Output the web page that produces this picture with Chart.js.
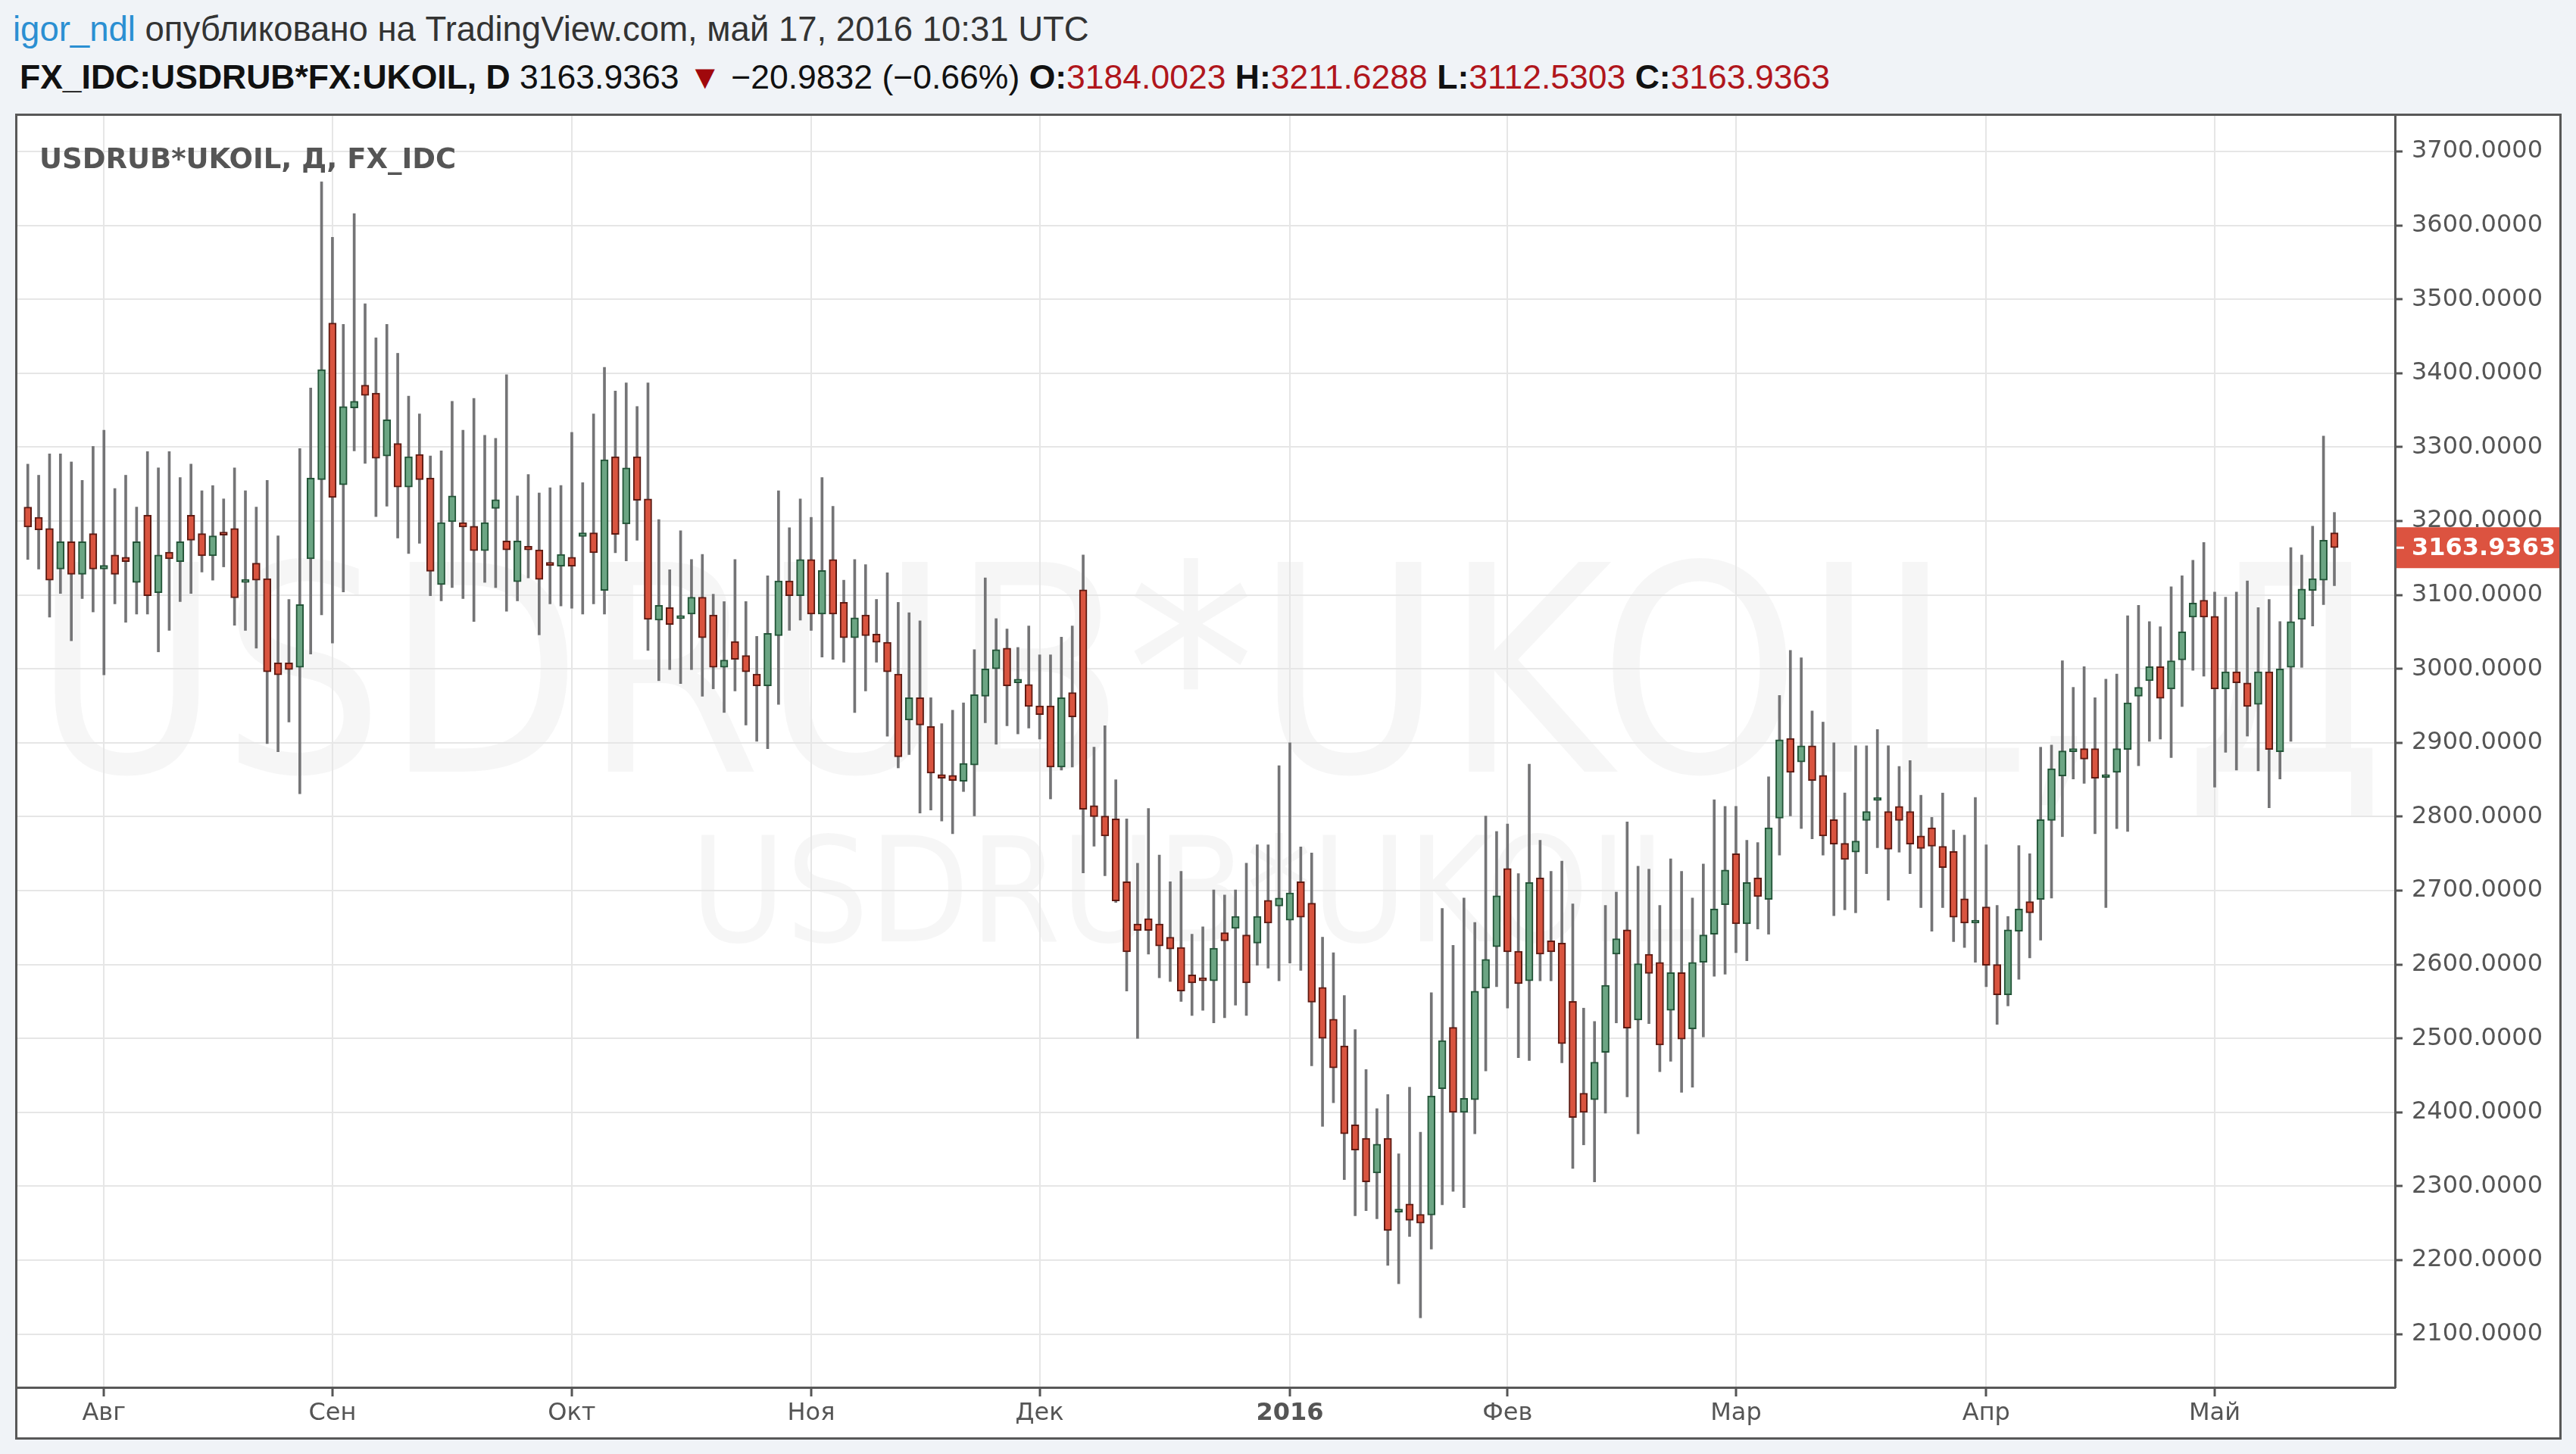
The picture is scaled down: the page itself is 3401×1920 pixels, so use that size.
<!DOCTYPE html>
<html><head><meta charset="utf-8">
<script src="https://cdn.jsdelivr.net/npm/chart.js@4.4.1/dist/chart.umd.min.js"></script>
<style>
html,body{margin:0;padding:0;background:#f0f3f7;width:3401px;height:1920px;overflow:hidden;}
#l1{position:absolute;left:17px;top:12px;font-family:'Liberation Sans',Arial,sans-serif;font-size:45.5px;line-height:54px;color:#333;white-space:nowrap;}
#l1 .user{color:#2b8fd2;}
#l2{position:absolute;left:26px;top:75px;font-family:'Liberation Sans',Arial,sans-serif;font-size:44.5px;line-height:54px;color:#111;white-space:nowrap;}
#l2 b{font-weight:bold;color:#111;}
#l2 .r{color:#b0161c;}
#l2 .tri{color:#a0080c;}
#frame{position:absolute;left:20px;top:150px;width:3356px;height:1745px;border:3px solid #585858;background:#fff;}
#chart{position:absolute;left:0;top:0;background:#fff;}
#legend{position:absolute;left:29px;top:35px;font-family:'DejaVu Sans',sans-serif;font-weight:bold;font-size:37px;line-height:44px;color:#555;white-space:nowrap;}
</style></head>
<body>
<div id="l1"><span class="user">igor_ndl</span> опубликовано на TradingView.com, май 17, 2016 10:31 UTC</div>
<div id="l2"><b>FX_IDC:USDRUB*FX:UKOIL, D</b> 3163.9363 <span class="tri">▼</span> −20.9832 (−0.66%) <b>O:</b><span class="r">3184.0023</span> <b>H:</b><span class="r">3211.6288</span> <b>L:</b><span class="r">3112.5303</span> <b>C:</b><span class="r">3163.9363</span></div>
<div id="frame">
<canvas id="chart" width="3356" height="1745"></canvas>
<div id="legend">USDRUB*UKOIL, Д, FX_IDC</div>
</div>
<script>
const opens=[3219,3205,3190,3135,3172,3128,3183,3135,3154,3151,
3117,3208,3103,3158,3145,3208,3183,3153,3183,3190,
3117,3143,3122,3008,3008,3002,3149,3256,3468,3249,
3353,3384,3373,3288,3305,3246,3290,3258,3114,3199,
3198,3193,3160,3217,3173,3118,3166,3161,3144,3139,
3151,3179,3184,3106,3287,3196,3287,3230,3066,3083,
3068,3074,3097,3073,3002,3037,3018,2993,2977,3045,
3119,3099,3148,3074,3148,3090,3042,3073,3047,3036,
2993,2931,2961,2922,2857,2856,2848,2870,2963,3000,
3028,2981,2979,2950,2950,2867,2968,3107,2815,2801,
2797,2712,2655,2662,2655,2637,2623,2586,2581,2578,
2643,2649,2640,2629,2687,2679,2660,2712,2683,2569,
2526,2490,2383,2365,2318,2365,2265,2276,2262,2261,
2432,2515,2400,2417,2568,2624,2730,2618,2578,2717,
2632,2629,2550,2426,2417,2481,2614,2647,2525,2614,
2603,2538,2589,2513,2603,2641,2681,2750,2655,2717,
2688,2798,2906,2874,2896,2856,2796,2764,2752,2795,
2822,2807,2814,2807,2774,2785,2760,2753,2689,2656,
2678,2600,2559,2645,2685,2688,2795,2855,2888,2892,
2892,2853,2860,2891,2963,2984,3003,2973,3012,3070,
3093,3071,2973,2996,2981,2952,2996,2888,3002,3067,
3106,3120,3184.0023];
const highs=[3277,3262,3291,3291,3280,3255,3301,3323,3244,3262,
3219,3294,3272,3294,3259,3277,3241,3248,3230,3272,
3241,3219,3255,3180,3094,3298,3380,3659,3584,3466,
3616,3494,3448,3466,3427,3369,3345,3288,3295,3362,
3323,3366,3316,3312,3398,3234,3263,3238,3245,3248,
3320,3252,3345,3408,3376,3387,3355,3387,3202,3134,
3187,3148,3155,3101,3091,3148,3091,3044,3126,3241,
3191,3230,3205,3259,3220,3120,3148,3141,3094,3130,
3090,3076,3065,2961,2926,2944,2954,3026,3123,3068,
3054,3029,3058,3019,3019,3043,3058,3154,2894,2923,
2850,2797,2737,2811,2748,2712,2726,2641,2651,2701,
2694,2701,2737,2762,2762,2869,2900,2759,2751,2637,
2616,2558,2512,2458,2405,2424,2344,2434,2373,2562,
2676,2626,2690,2657,2801,2780,2790,2723,2871,2768,
2726,2740,2682,2541,2523,2680,2698,2793,2733,2729,
2680,2743,2726,2690,2736,2823,2814,2814,2768,2765,
2854,2964,3025,3015,2943,2928,2900,2832,2896,2896,
2918,2896,2868,2876,2829,2799,2832,2782,2775,2826,
2762,2680,2665,2761,2750,2894,2897,3011,2975,3003,
2961,2986,2993,3072,3086,3064,3057,3111,3126,3147,
3171,3104,3097,3104,3119,3083,3094,3064,3164,3154,
3193,3315,3211.6288];
const lows=[3148,3135,3070,3102,3038,3095,3077,2992,3088,3063,
3074,3074,3023,3052,3091,3102,3131,3120,3138,3059,
3052,3028,2899,2888,2928,2831,3020,3073,3035,3104,
3295,3278,3206,3220,3177,3156,3170,3099,3092,3110,
3095,3064,3117,3110,3078,3092,3123,3046,3088,3085,
3082,3074,3088,3074,3157,3146,3174,3025,2984,2999,
2980,2999,2963,2973,2941,2970,2924,2902,2892,2952,
3052,3066,3052,3016,3013,3009,2941,2970,3009,2909,
2866,2884,2805,2809,2794,2777,2834,2801,2927,2898,
2923,2912,2920,2905,2824,2863,2867,2724,2760,2720,
2684,2564,2500,2614,2582,2577,2550,2531,2538,2521,
2528,2545,2531,2599,2595,2578,2602,2592,2463,2381,
2413,2309,2260,2267,2256,2193,2168,2232,2122,2215,
2275,2293,2271,2371,2456,2570,2541,2474,2470,2578,
2578,2467,2324,2356,2306,2399,2521,2421,2371,2520,
2455,2469,2427,2434,2502,2584,2587,2616,2605,2648,
2641,2748,2801,2784,2770,2748,2666,2674,2670,2723,
2758,2687,2752,2723,2677,2645,2677,2631,2623,2603,
2570,2519,2544,2580,2609,2633,2690,2773,2851,2845,
2777,2677,2784,2780,2869,2902,2905,2880,2949,2998,
2990,2840,2887,2863,2909,2862,2812,2851,2902,3002,
3058,3087,3112.5303];
const closes=[3192,3188,3120,3172,3128,3172,3135,3140,3128,3145,
3172,3099,3154,3149,3172,3174,3153,3180,3181,3096,
3118,3120,2996,2992,2999,3087,3258,3405,3232,3355,
3362,3370,3285,3337,3246,3287,3256,3132,3198,3234,
3192,3160,3198,3229,3161,3173,3161,3121,3140,3155,
3139,3184,3157,3283,3182,3272,3228,3067,3086,3060,
3069,3097,3042,3002,3012,3013,2996,2977,3048,3119,
3099,3148,3074,3133,3074,3042,3069,3045,3036,2996,
2881,2961,2924,2859,2852,2849,2872,2965,3000,3026,
2977,2986,2949,2938,2867,2961,2935,2810,2800,2774,
2686,2617,2646,2646,2625,2621,2564,2575,2578,2622,
2632,2665,2575,2665,2656,2690,2697,2664,2549,2500,
2460,2371,2349,2306,2357,2240,2268,2254,2250,2422,
2497,2400,2419,2564,2607,2693,2617,2574,2711,2614,
2617,2493,2393,2400,2468,2572,2635,2514,2601,2588,
2491,2589,2499,2603,2640,2675,2728,2655,2711,2692,
2785,2904,2860,2896,2849,2774,2763,2742,2767,2807,
2823,2756,2795,2763,2757,2760,2731,2664,2656,2660,
2599,2559,2647,2675,2670,2796,2865,2889,2889,2878,
2852,2855,2892,2954,2975,3003,2960,3011,3050,3089,
3070,2973,2996,2981,2949,2996,2891,3000,3064,3108,
3122,3174,3163.9363];
const monthTickIndex=[7,28,50,72,93,116,136,157,180,201];
const monthLabels=['Авг','Сен','Окт','Ноя','Дек','2016','Фев','Мар','Апр','Май'];
const priceTicks=[2100,2200,2300,2400,2500,2600,2700,2800,2900,3000,3100,3200,3300,3400,3500,3600,3700];
const watermarkMain='USDRUB*UKOIL, Д';
const watermarkSub='USDRUB*UKOIL';

const up=opens.map((o,i)=>closes[i]>=o);
const bodyData=opens.map((o,i)=>({x:i,y:[o,closes[i]]}));
const wickData=highs.map((h,i)=>({x:i,y:[lows[i],h]}));
const lastClose=closes[closes.length-1];

const watermarkPlugin={id:'wm',beforeDraw(chart){
  const ctx=chart.ctx,a=chart.chartArea;
  ctx.save();
  ctx.beginPath();ctx.rect(a.left,a.top,a.right-a.left,a.bottom-a.top);ctx.clip();
  ctx.fillStyle='rgba(0,0,0,0.035)';
  ctx.textAlign='center';ctx.textBaseline='alphabetic';
  ctx.font='380px "DejaVu Sans"';
  ctx.fillText(watermarkMain,1573,866,3106);
  ctx.font='193px "DejaVu Sans"';
  ctx.fillText(watermarkSub,1555,1090,1334);
  ctx.restore();
}};
const tagPlugin={id:'tag',afterDraw(chart){
  const ctx=chart.ctx,a=chart.chartArea,ys=chart.scales.y;
  const y=ys.getPixelForValue(lastClose);
  ctx.save();
  ctx.fillStyle='#dc5340';
  ctx.fillRect(a.right+2,y-27,chart.width-a.right,54);
  ctx.strokeStyle='#fff';ctx.lineWidth=3;
  ctx.beginPath();ctx.moveTo(a.right+2,y);ctx.lineTo(a.right+12,y);ctx.stroke();
  ctx.fillStyle='#fff';ctx.font='bold 32px "DejaVu Sans"';
  ctx.textAlign='left';ctx.textBaseline='middle';
  ctx.fillText(lastClose.toFixed(4),a.right+22,y+1);
  ctx.restore();
}};

new Chart(document.getElementById('chart'),{
  type:'bar',
  data:{datasets:[
    {data:bodyData,backgroundColor:up.map(u=>u?'#6ba583':'#d9543f'),borderColor:up.map(u=>u?'#225437':'#5e1a12'),
     borderWidth:2,borderSkipped:false,barThickness:10,minBarLength:4,grouped:false,order:1},
    {data:wickData,backgroundColor:'#747476',borderWidth:0,barThickness:3,grouped:false,order:2}
  ]},
  options:{
    responsive:false,animation:false,devicePixelRatio:1,
    layout:{padding:0},
    plugins:{legend:{display:false},tooltip:{enabled:false}},
    scales:{
      x:{type:'linear',min:-0.954,max:217.57,bounds:'data',offset:false,
        afterBuildTicks:ax=>{ax.ticks=monthTickIndex.map(v=>({value:v}));},
        afterFit:ax=>{ax.height=66;ax.paddingLeft=0;ax.paddingRight=0;},
        grid:{offset:false,color:'#e6e6e6',lineWidth:2,tickColor:'#555',tickLength:12,tickWidth:3,drawTicks:true},
        border:{display:true,color:'#585858',width:3},
        ticks:{autoSkip:false,maxRotation:0,padding:3,color:'#555',
          font:c=>({family:'DejaVu Sans',size:32,weight:c.index===5?'bold':'normal'}),
          callback:(v,i)=>monthLabels[i]}
      },
      y:{type:'linear',position:'right',min:2027.9,max:3748.2,bounds:'data',
        afterBuildTicks:ax=>{ax.ticks=priceTicks.map(v=>({value:v}));},
        afterFit:ax=>{ax.width=217;ax.paddingTop=0;ax.paddingBottom=0;},
        grid:{color:'#e6e6e6',lineWidth:2,tickColor:'#555',tickLength:10,tickWidth:3,drawTicks:true},
        border:{display:true,color:'#585858',width:3},
        ticks:{padding:12,color:'#555',font:{family:'DejaVu Sans',size:32},callback:v=>Number(v).toFixed(4)}
      }
    }
  },
  plugins:[watermarkPlugin,tagPlugin]
});
</script>
</body></html>
